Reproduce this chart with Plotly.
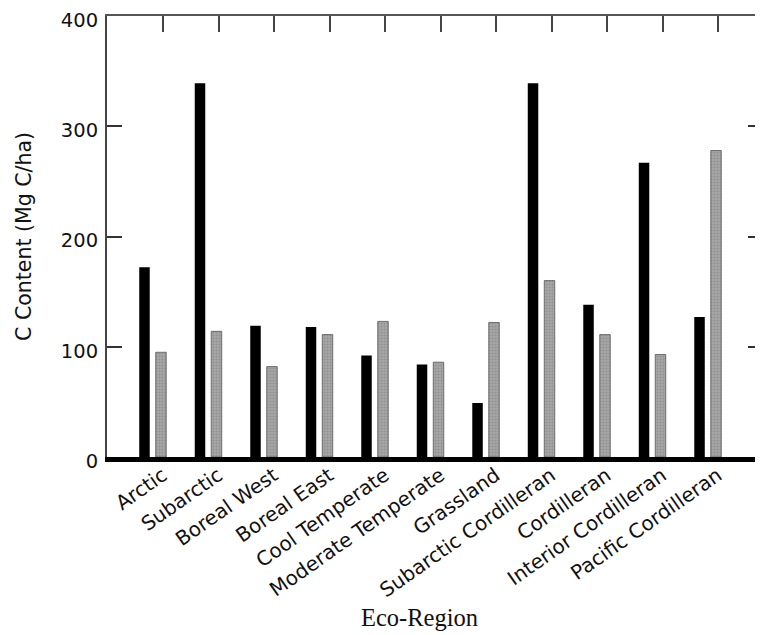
import plotly.graph_objects as go

categories = ["Arctic", "Subarctic", "Boreal West", "Boreal East", "Cool Temperate",
              "Moderate Temperate", "Grassland", "Subarctic Cordilleran", "Cordilleran",
              "Interior Cordilleran", "Pacific Cordilleran"]
series_a = [172, 339, 119, 118, 92, 84, 49, 339, 138, 267, 127]
series_b = [95, 114, 82, 111, 123, 86, 122, 160, 111, 93, 278]
y_ticks = [0, 100, 200, 300, 400]

sans = "DejaVu Sans, Verdana, sans-serif"
serif = "Liberation Serif, Times New Roman, serif"

fig = go.Figure()
fig.add_trace(go.Bar(x=categories, y=series_a, marker=dict(color="#000000", line=dict(width=0)),
                     showlegend=False))
fig.add_trace(go.Bar(x=categories, y=series_b,
                     marker=dict(color="#a2a2a2",
                                 line=dict(color="#555555", width=0.8),
                                 pattern=dict(shape=".", fgcolor="#787878", bgcolor="#a8a8a8",
                                              size=3, solidity=0.4)),
                     showlegend=False))

n = len(categories)
xr = [-0.824, n - 0.005]

# empty helper trace so the top axis with its ticks is drawn
fig.add_trace(go.Scatter(x=[0], y=[None], xaxis="x2", yaxis="y", mode="markers",
                         showlegend=False, hoverinfo="skip"))

fig.update_layout(
    width=755, height=627,
    margin=dict(l=99, r=0, t=8, b=178, autoexpand=False),
    paper_bgcolor="white", plot_bgcolor="white",
    barmode="group", bargap=0.406, bargroupgap=0.363,
    font=dict(family=sans, color="black"),
    xaxis=dict(type="category", range=xr, showline=True, linecolor="black", linewidth=5,
               ticks="", tickangle=-35, tickfont=dict(size=20, family=sans, color="#111"),
               ticklabelstandoff=-6, ticklabelshift=10, automargin=False,
               showgrid=False, zeroline=False),
    xaxis2=dict(type="linear", overlaying="x", side="top", anchor="y", range=xr,
                showline=True, linecolor="#555555", linewidth=2, ticks="inside", ticklen=16,
                tickwidth=2, tickcolor="#444444", tickmode="array",
                tickvals=[i + 0.185 for i in range(n)], automargin=False,
                showticklabels=False, showgrid=False, zeroline=False),
    yaxis=dict(range=[0, 400], tickvals=y_ticks, ticks="inside", ticklen=15, tickwidth=2,
               tickcolor="#333333", showline=True, linecolor="#444444", linewidth=2,
               mirror="ticks", showgrid=False, zeroline=False, ticklabelstandoff=3,
               ticklabelshift=4, ticklabeloverflow="allow", automargin=False,
               tickfont=dict(size=19.5, family=sans, color="#111"),
               title=dict(text="C Content (Mg C/ha)", font=dict(size=20.5, family=sans, color="#111"),
                          standoff=24)),
    annotations=[dict(text="Eco-Region", xref="paper", yref="paper", x=0.477, y=-0.365,
                      xanchor="center", yanchor="middle", showarrow=False,
                      font=dict(size=24.5, family=serif, color="#111"))],
)

fig.write_html("out.html")
